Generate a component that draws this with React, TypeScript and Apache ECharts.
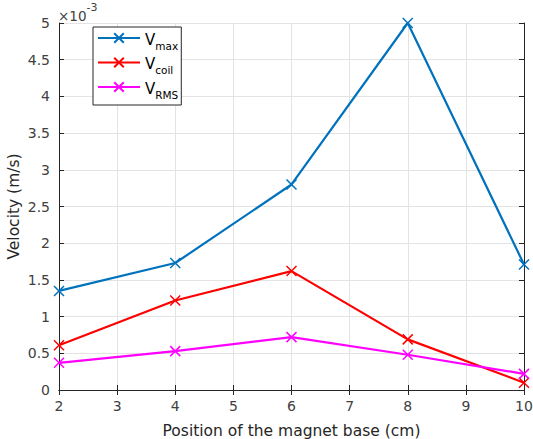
import React, { useEffect, useRef } from "react";
import * as echarts from "echarts";

const positions = [2, 4, 6, 8, 10];
const vMax = [1.35, 1.73, 2.8, 5.0, 1.71];
const vCoil = [0.61, 1.22, 1.62, 0.69, 0.1];
const vRms = [0.37, 0.53, 0.72, 0.48, 0.22];
const seriesNames = ["max", "coil", "RMS"];
const seriesColors = ["#0072BD", "#FF0000", "#FF00FF"];

const FONT = "DejaVu Sans";
const XSYM = "path://M0,0L10,10M10,0L0,10";

export default function App() {
  const ref = useRef<HTMLDivElement>(null);
  useEffect(() => {
    if (!ref.current) return;
    const chart = echarts.init(ref.current, null, { renderer: "svg" });
    const all = [vMax, vCoil, vRms];
    const series = all.map((vals, i) => ({
      name: seriesNames[i],
      type: "line",
      data: positions.map((x, j) => [x, vals[j]]),
      symbol: XSYM,
      symbolSize: 10,
      showSymbol: true,
      lineStyle: { color: seriesColors[i], width: 2.2 },
      itemStyle: { color: seriesColors[i], borderColor: seriesColors[i], borderWidth: 1.5 },
      xAxisIndex: 0,
      yAxisIndex: 0,
      z: 3,
    }));
    const axisLine = { show: true, lineStyle: { color: "#262626", width: 1 } };
    const axisLabel = { color: "#404040", fontFamily: FONT, fontSize: 14 };
    chart.setOption({
      animation: false,
      backgroundColor: "#ffffff",
      grid: { left: 59, right: 9, top: 23, bottom: 49, outerBoundsMode: "none", containLabel: false },
      xAxis: [
        {
          type: "value",
          min: 2,
          max: 10,
          interval: 1,
          position: "bottom",
          axisLine,
          axisTick: { show: true, inside: true, length: 5, lineStyle: { color: "#262626" } },
          axisLabel: { ...axisLabel, margin: 9 },
          splitLine: { show: true, lineStyle: { color: "#e3e3e3", width: 1 } },
          name: "Position of the magnet base (cm)",
          nameLocation: "middle",
          nameGap: 33,
          nameMoveOverlap: false,
          nameTextStyle: { color: "#262626", fontFamily: FONT, fontSize: 15.5 },
        },
        {
          type: "value",
          min: 2,
          max: 10,
          interval: 1,
          position: "top",
          axisLine,
          axisTick: { show: true, inside: true, length: 5, lineStyle: { color: "#262626" } },
          axisLabel: { show: false },
          splitLine: { show: false },
        },
      ],
      yAxis: [
        {
          type: "value",
          min: 0,
          max: 5,
          interval: 0.5,
          position: "left",
          axisLine,
          axisTick: { show: true, inside: true, length: 5, lineStyle: { color: "#262626" } },
          axisLabel: { ...axisLabel, margin: 9 },
          splitLine: { show: true, lineStyle: { color: "#e3e3e3", width: 1 } },
          name: "Velocity (m/s)",
          nameLocation: "middle",
          nameGap: 37,
          nameMoveOverlap: false,
          nameTextStyle: { color: "#262626", fontFamily: FONT, fontSize: 15.5 },
        },
        {
          type: "value",
          min: 0,
          max: 5,
          interval: 0.5,
          position: "right",
          axisLine,
          axisTick: { show: true, inside: true, length: 5, lineStyle: { color: "#262626" } },
          axisLabel: { show: false },
          splitLine: { show: false },
        },
      ],
      legend: {
        orient: "vertical",
        left: 93,
        top: 27,
        padding: [5, 3, 5, 4],
        itemWidth: 42,
        itemHeight: 12,
        itemGap: 5.5,
        backgroundColor: "#ffffff",
        borderColor: "#262626",
        borderWidth: 1,
        data: seriesNames,
        formatter: (name: string) => `{v|V}{s|${name}}`,
        textStyle: {
          fontFamily: FONT,
          color: "#000000",
          rich: {
            v: { fontFamily: FONT, fontSize: 15, color: "#000", verticalAlign: "bottom", lineHeight: 18 },
            s: { fontFamily: FONT, fontSize: 10.5, color: "#000", verticalAlign: "bottom", padding: [0, 0, -4, 0], lineHeight: 12 },
          },
        },
        z: 10,
      },
      graphic: [
        {
          type: "text",
          left: 58,
          top: 2,
          style: {
            text: "{a|×10}{b|-3}",
            rich: {
              a: { fontFamily: FONT, fontSize: 13.5, fill: "#404040", verticalAlign: "bottom", padding: [7, 0, 0, 0] },
              b: { fontFamily: FONT, fontSize: 11, fill: "#404040", verticalAlign: "top" },
            },
          },
        },
      ],
      series,
    });
    return () => chart.dispose();
  }, []);
  return (
    <div
      ref={ref}
      style={{ position: "absolute", left: 0, top: 0, width: 533, height: 439 }}
    />
  );
}
